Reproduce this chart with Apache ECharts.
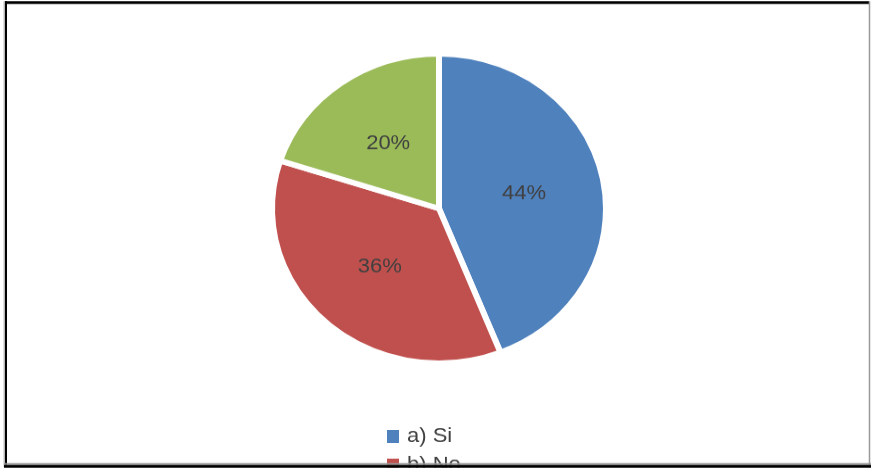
<!DOCTYPE html>
<html>
<head>
<meta charset="utf-8">
<script src="https://cdn.jsdelivr.net/npm/echarts@6/dist/echarts.min.js"></script>
<style>
    html, body {margin: 0; padding: 0; background: #fff; overflow: hidden;}
    #wrap {width: 871px; height: 469px; overflow: hidden;}
    /* the source picture is a bit squashed vertically */
    #main {width: 871px; height: 506px; transform: scaleY(0.9266); transform-origin: 0 0;}
</style>
</head>
<body>
<div id="wrap"><div id="main"></div></div>
<script>
    var categories = ['a) Si', 'b) No', 'c) A veces'];
    var values = [44, 36, 20];
    var colors = ['#4F81BD', '#C0504D', '#9BBB59'];

    (function (charts) {
        charts.setOption({
            animation: false,
            color: colors,
            textStyle: {fontFamily: 'Liberation Sans, Arial, sans-serif'},
            legend: {
                orient: 'vertical', left: 385, top: 460, height: 200, padding: 0,
                itemWidth: 14, itemHeight: 16, itemGap: 9,
                icon: 'rect',
                textStyle: {fontSize: 22, lineHeight: 22, color: '#404040', padding: [0, 0, 0, 2]},
                data: categories
            },
            series: [
                {
                    type: 'pie',
                    center: [439, 225],
                    radius: 167,
                    startAngle: 90,
                    clockwise: true,
                    itemStyle: {borderColor: '#fff', borderWidth: 6},
                    label: {
                        show: true, position: 'inner', formatter: '{c}%',
                        fontSize: 22, color: '#404040', fontFamily: 'Liberation Sans, Arial, sans-serif'
                    },
                    labelLine: {show: false},
                    emphasis: {disabled: true},
                    data: categories.map(function (name, i) {
                        return {name: name, value: values[i]};
                    })
                }
            ],
            graphic: [
                // white strip under the bottom frame line, hides the rest of the legend
                {type: 'rect', z: 100, shape: {x: 0, y: 504.6, width: 871, height: 10}, style: {fill: '#fff'}},
                {type: 'rect', z: 101, shape: {x: 0, y: 0, width: 871, height: 1.2}, style: {fill: '#fff'}},
                // frame
                {type: 'line', z: 102, shape: {x1: 5, y1: 2.7, x2: 869, y2: 2.7}, style: {stroke: '#000', lineWidth: 3}},
                {type: 'line', z: 102, shape: {x1: 6, y1: 1.2, x2: 6, y2: 504}, style: {stroke: '#000', lineWidth: 2}},
                {type: 'line', z: 102, shape: {x1: 4.2, y1: 1.2, x2: 4.2, y2: 504}, style: {stroke: '#999', lineWidth: 1}},
                {type: 'line', z: 102, shape: {x1: 869.5, y1: 1.2, x2: 869.5, y2: 504}, style: {stroke: '#999', lineWidth: 1.5}},
                {type: 'line', z: 102, shape: {x1: 4, y1: 500.7, x2: 871, y2: 500.7}, style: {stroke: '#999', lineWidth: 2}},
                {type: 'line', z: 102, shape: {x1: 4, y1: 503.2, x2: 871, y2: 503.2}, style: {stroke: '#000', lineWidth: 3}}
            ]
        });
    })(echarts.init(document.getElementById('main')));
</script>
</body>
</html>
